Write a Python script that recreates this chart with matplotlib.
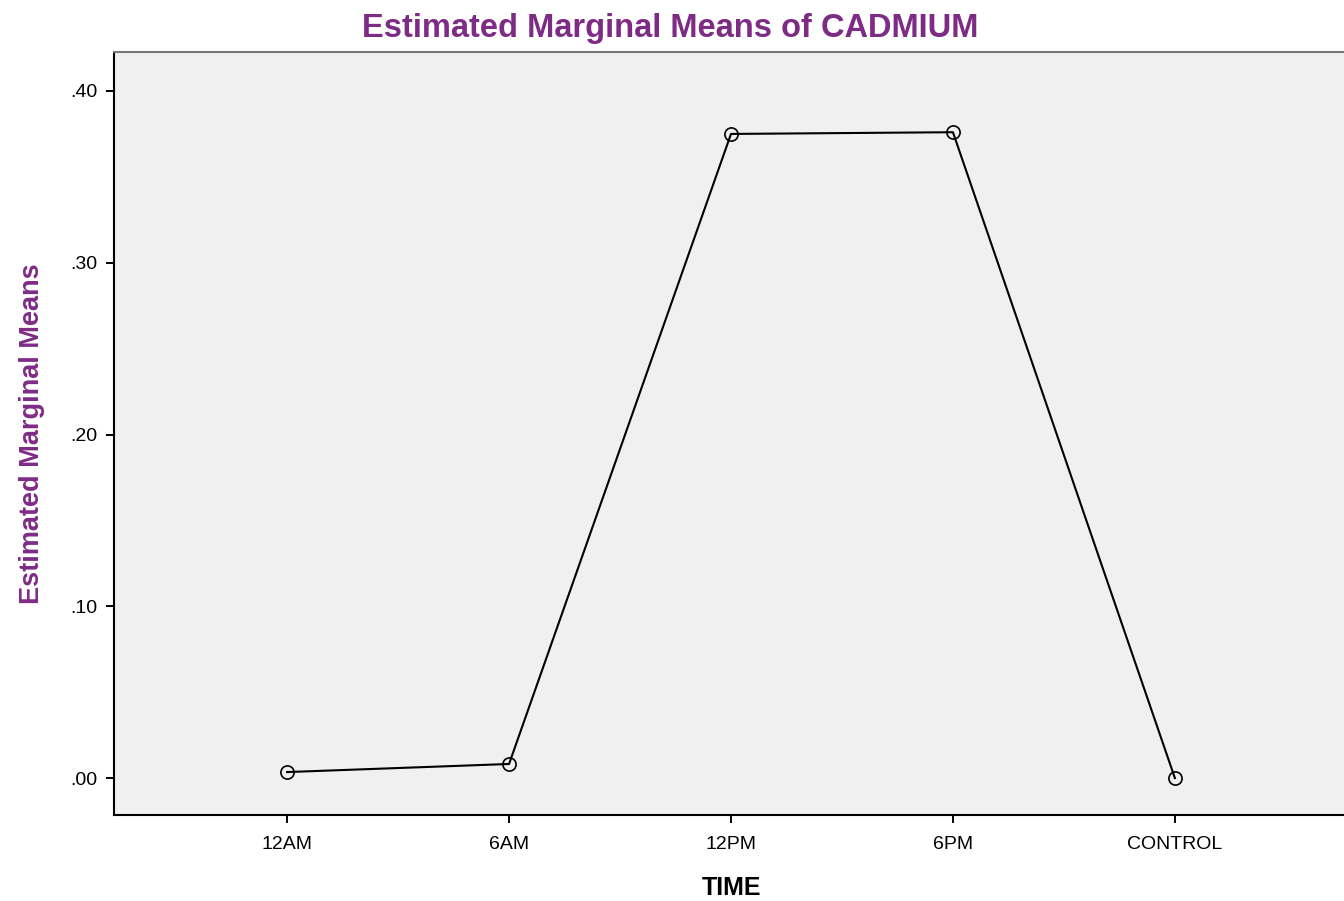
import numpy as np
import matplotlib.pyplot as plt

# estimated marginal means
times = ["12AM", "6AM", "12PM", "6PM", "CONTROL"]
cadmium = [0.0035, 0.0082, 0.375, 0.376, 0.0]
yticks = [0.0, 0.1, 0.2, 0.3, 0.4]
ytick_labels = [".00", ".10", ".20", ".30", ".40"]

purple = "#7e2b86"

if __name__ == "__main__":
    plt.rcParams['font.family'] = ['Liberation Sans', 'DejaVu Sans']

    fig = plt.figure(figsize=(13.44, 9.01), dpi=100)
    ax = fig.add_axes([114 / 1344, 86 / 901, 1234 / 1344, 763 / 901])
    ax.set_facecolor("#f0f0f0")

    x = np.arange(len(times))
    ax.plot(x, cadmium, color="black", lw=1.5, marker='o', ms=9.5,
            mfc='none', mec='black', mew=1.2)

    ax.set_xlim(-0.78, 4.78)
    ax.set_ylim(-0.0215, 0.4227)
    ax.set_xticks(x)
    ax.set_xticklabels(times, fontsize=14)
    ax.set_yticks(yticks)
    ax.set_yticklabels(ytick_labels, fontsize=14)
    ax.tick_params(length=6, width=1.4, color="black")
    ax.tick_params(axis='x', pad=9)
    ax.tick_params(axis='y', pad=6)

    for s in ["left", "bottom"]:
        ax.spines[s].set_linewidth(1.5)
        ax.spines[s].set_color("black")
    ax.spines["top"].set_color("#777777")
    ax.spines["top"].set_linewidth(1.5)
    ax.spines["right"].set_visible(False)

    ax.set_xlabel("TIME", fontsize=18, fontweight='bold', labelpad=17)
    ax.set_ylabel("Estimated Marginal Means", fontsize=19.5, fontweight='bold',
                  color=purple, labelpad=18)
    fig.text(670 / 1344, 1 - 28 / 901, "Estimated Marginal Means of CADMIUM",
             ha='center', va='center', fontsize=23.5, fontweight='bold', color=purple)

    plt.savefig("out.png", dpi=100)
